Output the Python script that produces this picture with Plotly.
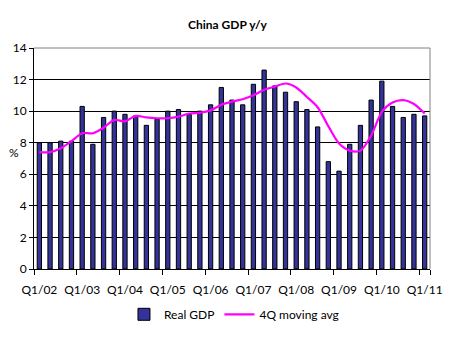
import plotly.graph_objects as go

# Quarterly labels Q1/02 .. Q1/11
quarters = [f"Q{q}/{y:02d}" for y in range(2, 12) for q in range(1, 5)][:37]

# Real GDP growth, % y/y
real_gdp = [8.0, 8.0, 8.1, 8.1, 10.3, 7.9, 9.6, 10.0,
            9.8, 9.7, 9.1, 9.5, 10.0, 10.1, 9.8, 10.0,
            10.4, 11.5, 10.7, 10.4, 11.7, 12.6, 11.6, 11.2,
            10.6, 10.1, 9.0, 6.8, 6.2, 7.9, 9.1, 10.7,
            11.9, 10.3, 9.6, 9.8, 9.7]

# 4-quarter moving average
moving_avg = [7.4, 7.4, 7.65, 8.1, 8.6, 8.6, 8.95, 9.45,
              9.35, 9.7, 9.6, 9.55, 9.55, 9.65, 9.85, 9.9,
              10.05, 10.4, 10.6, 10.75, 11.0, 11.35, 11.55, 11.75,
              11.5, 10.9, 10.25, 9.05, 7.95, 7.5, 7.5, 8.45,
              9.95, 10.55, 10.7, 10.45, 9.85]

y_ticks = list(range(0, 15, 2))
font_family = "Lato, 'Open Sans', sans-serif"

fig = go.Figure()
fig.add_trace(go.Bar(
    x=quarters, y=real_gdp, name="Real GDP",
    marker=dict(color="#333399", line=dict(color="#000000", width=1)),
))
fig.add_trace(go.Scatter(
    x=quarters, y=moving_avg, name="4Q moving avg", mode="lines",
    line=dict(color="#FF00FF", width=2.2, shape="spline", smoothing=0.8),
))

fig.update_layout(
    width=455, height=341,
    margin=dict(l=34, r=23, t=48, b=72),
    paper_bgcolor="white", plot_bgcolor="white",
    font=dict(family=font_family, size=12, color="#000000"),
    bargap=0.6,
    showlegend=True,
    legend=dict(orientation="h", x=0.505, xanchor="center", y=-0.205, yanchor="middle",
                font=dict(size=12), itemwidth=30, traceorder="normal"),
    title=dict(text="<b>China GDP y/y</b>", x=0.5, xanchor="center", y=0.928,
               yanchor="middle", font=dict(size=12)),
    xaxis=dict(
        type="category", tickmode="array", tickvals=quarters[::4], ticktext=quarters[::4],
        tickson="boundaries", ticks="outside", ticklen=5, tickcolor="#000000",
        showline=True, linecolor="#000000", linewidth=1, showgrid=False,
        tickangle=0, tickfont=dict(size=12), ticklabelstandoff=10,
    ),
    yaxis=dict(
        range=[0, 14], tickvals=y_ticks, ticks="outside", ticklen=4, tickcolor="#000000",
        showline=True, linecolor="#000000", linewidth=1,
        showgrid=True, gridcolor="#000000", gridwidth=1, zeroline=False,
        tickfont=dict(size=12),
    ),
    annotations=[dict(text="%", xref="paper", yref="y", x=-0.05, y=7.4,
                      showarrow=False, font=dict(size=12), xanchor="center")],
    shapes=[
        # grey plot-area border on top and right
        dict(type="line", xref="paper", yref="paper", x0=0, x1=1, y0=1, y1=1,
             line=dict(color="#808080", width=1)),
        dict(type="line", xref="paper", yref="paper", x0=1, x1=1, y0=0, y1=1,
             line=dict(color="#808080", width=1)),
    ],
)

fig.write_html("out.html")
